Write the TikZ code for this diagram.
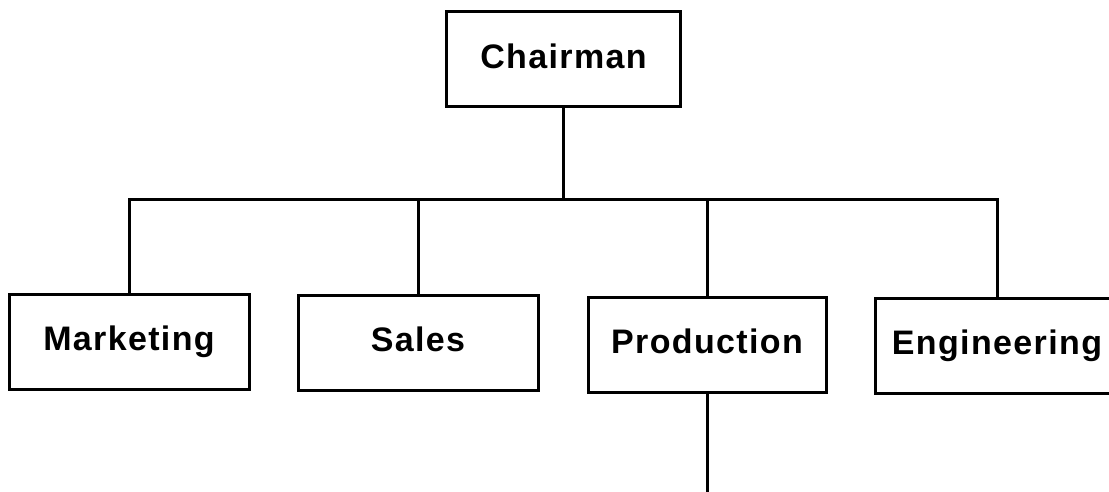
\documentclass[tikz,border=0pt]{standalone}
\usepackage{fontspec}
\setmainfont{Liberation Sans}
\newfontfamily\orgfont[LetterSpace=4]{Liberation Sans}
\begin{document}
\begin{tikzpicture}[x=1pt,y=1pt,
  line width=3pt,
  unit/.style={draw, line width=3pt, inner sep=0pt,
    minimum width=#1, minimum height=95pt,
    text height=24.5pt, text depth=7pt,
    font=\orgfont\bfseries\fontsize{34}{38}\selectfont},
  unit/.default=234pt,
  link/.style={line width=3pt, line cap=rect}]
\useasboundingbox (0,0) rectangle (1109,491);
% top of the chart
\node[unit] (chair) at (563.5,431.5) {Chairman};
% departments
\node[unit=240pt] (mkt)  at (129,149) {Marketing};
\node[unit=240pt] (sales) at (418,148) {Sales};
\node[unit=238pt] (prod) at (707,146.5) {Production};
\node[unit=244pt] (eng)  at (997,145.5) {Engineering};
% the bus joining them
\coordinate (bus) at (0,292);
\coordinate (floor) at (0,-5);
\draw[link] (chair.south) -- (chair.south |- bus);
\draw[link] (mkt.north |- bus) -- (eng.north |- bus);
\draw[link] (mkt.north) -- (mkt.north |- bus);
\draw[link] (sales.north) -- (sales.north |- bus);
\draw[link] (prod.north) -- (prod.north |- bus);
\draw[link] (eng.north) -- (eng.north |- bus);
\draw[link] (prod.south) -- (prod.south |- floor);
\end{tikzpicture}
\end{document}
